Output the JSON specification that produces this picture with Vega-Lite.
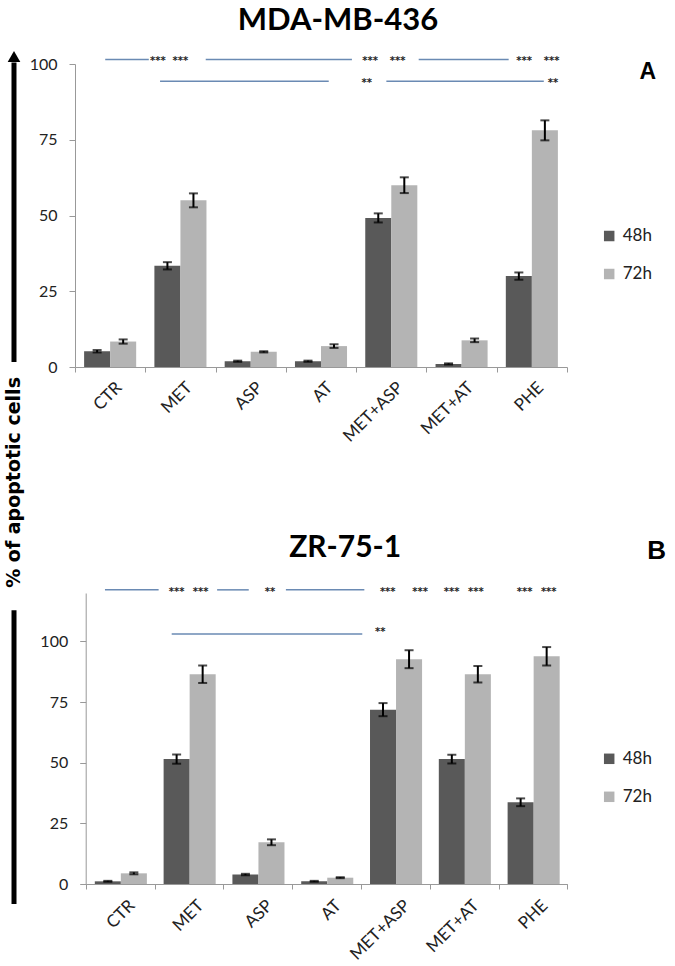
{
  "$schema": "https://vega.github.io/schema/vega-lite/v6.json",
  "background": "white",
  "padding": {"left": 4, "top": 4, "right": 2, "bottom": 2},
  "config": {"view": {"stroke": null}, "font": "Lato"},
  "datasets": {
    "mda": [
      {"treatment": "CTR", "time": "48h", "value": 5.2, "lo": 4.8, "hi": 5.6},
      {"treatment": "CTR", "time": "72h", "value": 8.4, "lo": 7.7, "hi": 9.1},
      {"treatment": "MET", "time": "48h", "value": 33.4, "lo": 32.2, "hi": 34.6},
      {"treatment": "MET", "time": "72h", "value": 55.0, "lo": 52.7, "hi": 57.3},
      {"treatment": "ASP", "time": "48h", "value": 1.9, "lo": 1.7, "hi": 2.1},
      {"treatment": "ASP", "time": "72h", "value": 5.0, "lo": 4.8, "hi": 5.2},
      {"treatment": "AT", "time": "48h", "value": 1.9, "lo": 1.7, "hi": 2.1},
      {"treatment": "AT", "time": "72h", "value": 6.9, "lo": 6.3, "hi": 7.5},
      {"treatment": "MET+ASP", "time": "48h", "value": 49.2, "lo": 47.7, "hi": 50.7},
      {"treatment": "MET+ASP", "time": "72h", "value": 60.0, "lo": 57.4, "hi": 62.6},
      {"treatment": "MET+AT", "time": "48h", "value": 1.0, "lo": 0.8, "hi": 1.2},
      {"treatment": "MET+AT", "time": "72h", "value": 8.8, "lo": 8.2, "hi": 9.4},
      {"treatment": "PHE", "time": "48h", "value": 30.0, "lo": 28.8, "hi": 31.2},
      {"treatment": "PHE", "time": "72h", "value": 78.1, "lo": 74.8, "hi": 81.4}
    ],
    "zr": [
      {"treatment": "CTR", "time": "48h", "value": 1.1, "lo": 0.9, "hi": 1.3},
      {"treatment": "CTR", "time": "72h", "value": 4.4, "lo": 4.0, "hi": 4.8},
      {"treatment": "MET", "time": "48h", "value": 51.5, "lo": 49.6, "hi": 53.4},
      {"treatment": "MET", "time": "72h", "value": 86.5, "lo": 82.9, "hi": 90.1},
      {"treatment": "ASP", "time": "48h", "value": 3.9, "lo": 3.6, "hi": 4.2},
      {"treatment": "ASP", "time": "72h", "value": 17.2, "lo": 16.0, "hi": 18.4},
      {"treatment": "AT", "time": "48h", "value": 1.1, "lo": 0.9, "hi": 1.3},
      {"treatment": "AT", "time": "72h", "value": 2.6, "lo": 2.4, "hi": 2.8},
      {"treatment": "MET+ASP", "time": "48h", "value": 71.9, "lo": 69.2, "hi": 74.6},
      {"treatment": "MET+ASP", "time": "72h", "value": 92.7, "lo": 89.0, "hi": 96.4},
      {"treatment": "MET+AT", "time": "48h", "value": 51.5, "lo": 49.7, "hi": 53.3},
      {"treatment": "MET+AT", "time": "72h", "value": 86.5, "lo": 83.1, "hi": 89.9},
      {"treatment": "PHE", "time": "48h", "value": 33.7, "lo": 32.1, "hi": 35.3},
      {"treatment": "PHE", "time": "72h", "value": 93.9, "lo": 90.1, "hi": 97.7}
    ],
    "mdaSeg": [
      {"x": 0.43, "x2": 1.05, "y": 101.5},
      {"x": 1.86, "x2": 3.94, "y": 101.5},
      {"x": 4.89, "x2": 6.17, "y": 101.5},
      {"x": 1.21, "x2": 3.61, "y": 94.3},
      {"x": 4.43, "x2": 6.67, "y": 94.3}
    ],
    "mdaStars": [
      {"x": 1.18, "y": 101.5, "label": "***"},
      {"x": 1.5, "y": 101.5, "label": "***"},
      {"x": 4.2, "y": 101.5, "label": "***"},
      {"x": 4.59, "y": 101.5, "label": "***"},
      {"x": 6.39, "y": 101.5, "label": "***"},
      {"x": 6.78, "y": 101.5, "label": "***"},
      {"x": 4.15, "y": 94.3, "label": "**"},
      {"x": 6.8, "y": 94.3, "label": "**"}
    ],
    "zrSeg": [
      {"x": 0.28, "x2": 1.06, "y": 121.3},
      {"x": 1.91, "x2": 2.37, "y": 121.3},
      {"x": 2.91, "x2": 4.05, "y": 121.3},
      {"x": 1.25, "x2": 4.02, "y": 103.1}
    ],
    "zrStars": [
      {"x": 1.32, "y": 121.3, "label": "***"},
      {"x": 1.67, "y": 121.3, "label": "***"},
      {"x": 2.68, "y": 121.3, "label": "**"},
      {"x": 4.39, "y": 121.3, "label": "***"},
      {"x": 4.86, "y": 121.3, "label": "***"},
      {"x": 5.32, "y": 121.3, "label": "***"},
      {"x": 5.67, "y": 121.3, "label": "***"},
      {"x": 6.38, "y": 121.3, "label": "***"},
      {"x": 6.73, "y": 121.3, "label": "***"},
      {"x": 4.28, "y": 104.9, "label": "**"}
    ]
  },
  "vconcat": [
    {
      "width": 492,
      "height": 303,
      "title": {"text": "MDA-MB-436", "fontSize": 31, "font": "Lato", "fontWeight": "bold", "anchor": "middle", "frame": "group", "offset": 14, "dx": 17, "color": "#000"},
      "layer": [
        {
          "data": {"name": "mda"},
          "encoding": {
            "x": {"field": "treatment", "type": "nominal", "sort": ["CTR", "MET", "ASP", "AT", "MET+ASP", "MET+AT", "PHE"],
              "scale": {"paddingInner": 0, "paddingOuter": 0},
              "axis": {"title": null, "labelAngle": -45, "labelFontSize": 17, "labelFont": "Lato", "labelColor": "#222", "tickBand": "extent", "domainColor": "#999", "tickColor": "#999", "tickSize": 5, "labelPadding": 7, "labelOffset": 3}},
            "xOffset": {"field": "time", "type": "nominal", "scale": {"paddingOuter": 0.35, "paddingInner": 0}}
          },
          "layer": [
            {
              "mark": {"type": "bar"},
              "encoding": {
                "y": {"field": "value", "type": "quantitative", "scale": {"domain": [0, 100], "nice": false},
                  "axis": {"title": null, "values": [0, 25, 50, 75, 100], "grid": false, "labelFontSize": 16, "labelFont": "Lato", "labelColor": "#222", "domainColor": "#999", "tickColor": "#999", "tickSize": 6, "labelPadding": 12}},
                "color": {"field": "time", "type": "nominal", "scale": {"domain": ["48h", "72h"], "range": ["#595959", "#b4b4b4"]},
                  "legend": {"title": null, "orient": "none", "legendX": 525.7, "legendY": 163.5, "symbolType": "square", "symbolSize": 110, "symbolStrokeWidth": 0, "labelFontSize": 17, "labelFont": "Lato", "labelColor": "#222", "rowPadding": 20, "padding": 0, "labelOffset": 5}}
              }
            },
            {
              "mark": {"type": "rule", "color": "black", "strokeWidth": 2},
              "encoding": {"y": {"field": "lo", "type": "quantitative", "scale": {"domain": [0, 100], "nice": false},
                  "axis": {"title": null, "values": [0, 25, 50, 75, 100], "grid": false, "labelFontSize": 16, "labelFont": "Lato", "labelColor": "#222", "domainColor": "#999", "tickColor": "#999", "tickSize": 6, "labelPadding": 12}}, "y2": {"field": "hi"}}
            },
            {
              "mark": {"type": "tick", "color": "black", "size": 9, "thickness": 2},
              "encoding": {"y": {"field": "lo", "type": "quantitative", "scale": {"domain": [0, 100], "nice": false},
                  "axis": {"title": null, "values": [0, 25, 50, 75, 100], "grid": false, "labelFontSize": 16, "labelFont": "Lato", "labelColor": "#222", "domainColor": "#999", "tickColor": "#999", "tickSize": 6, "labelPadding": 12}}}
            },
            {
              "mark": {"type": "tick", "color": "black", "size": 9, "thickness": 2},
              "encoding": {"y": {"field": "hi", "type": "quantitative", "scale": {"domain": [0, 100], "nice": false},
                  "axis": {"title": null, "values": [0, 25, 50, 75, 100], "grid": false, "labelFontSize": 16, "labelFont": "Lato", "labelColor": "#222", "domainColor": "#999", "tickColor": "#999", "tickSize": 6, "labelPadding": 12}}}
            }
          ]
        },
        {
          "layer": [
            {
              "data": {"name": "mdaSeg"},
              "mark": {"type": "rule", "color": "#6a8ab3", "strokeWidth": 1.5},
              "encoding": {
                "x": {"field": "x", "type": "quantitative", "scale": {"domain": [0, 7], "nice": false, "zero": false}, "axis": null},
                "x2": {"field": "x2"},
                "y": {"field": "y", "type": "quantitative", "scale": {"domain": [0, 100], "nice": false},
                  "axis": {"title": null, "values": [0, 25, 50, 75, 100], "grid": false, "labelFontSize": 16, "labelFont": "Lato", "labelColor": "#222", "domainColor": "#999", "tickColor": "#999", "tickSize": 6, "labelPadding": 12}}
              }
            },
            {
              "data": {"name": "mdaStars"},
              "mark": {"type": "text", "fontSize": 10, "font": "DejaVu Sans", "fontWeight": "bold", "dy": 2, "color": "#222"},
              "encoding": {
                "x": {"field": "x", "type": "quantitative", "scale": {"domain": [0, 7], "nice": false, "zero": false}, "axis": null},
                "y": {"field": "y", "type": "quantitative", "scale": {"domain": [0, 100], "nice": false},
                  "axis": {"title": null, "values": [0, 25, 50, 75, 100], "grid": false, "labelFontSize": 16, "labelFont": "Lato", "labelColor": "#222", "domainColor": "#999", "tickColor": "#999", "tickSize": 6, "labelPadding": 12}},
                "text": {"field": "label"}
              }
            },
            {
              "data": {"values": [{}]},
              "mark": {"type": "text", "fontSize": 23, "font": "Liberation Sans", "fontWeight": "bold", "color": "black"},
              "encoding": {
                "x": {"datum": 8.15, "type": "quantitative", "scale": {"domain": [0, 7], "nice": false, "zero": false}, "axis": null},
                "y": {"datum": 97.4, "type": "quantitative", "scale": {"domain": [0, 100], "nice": false},
                  "axis": {"title": null, "values": [0, 25, 50, 75, 100], "grid": false, "labelFontSize": 16, "labelFont": "Lato", "labelColor": "#222", "domainColor": "#999", "tickColor": "#999", "tickSize": 6, "labelPadding": 12}},
                "text": {"value": "A"}
              }
            },
            {
              "data": {"values": [{}]},
              "mark": {"type": "rule", "color": "black", "strokeWidth": 5},
              "encoding": {
                "x": {"datum": -0.868, "type": "quantitative", "scale": {"domain": [0, 7], "nice": false, "zero": false}, "axis": null},
                "y": {"datum": 1.65, "type": "quantitative", "scale": {"domain": [0, 100], "nice": false},
                  "axis": {"title": null, "values": [0, 25, 50, 75, 100], "grid": false, "labelFontSize": 16, "labelFont": "Lato", "labelColor": "#222", "domainColor": "#999", "tickColor": "#999", "tickSize": 6, "labelPadding": 12}},
                "y2": {"datum": 100.5}
              }
            },
            {
              "data": {"values": [{}]},
              "mark": {"type": "point", "shape": "triangle-up", "filled": true, "color": "black", "size": 160, "opacity": 1},
              "encoding": {
                "x": {"datum": -0.868, "type": "quantitative", "scale": {"domain": [0, 7], "nice": false, "zero": false}, "axis": null},
                "y": {"datum": 102.5, "type": "quantitative", "scale": {"domain": [0, 100], "nice": false},
                  "axis": {"title": null, "values": [0, 25, 50, 75, 100], "grid": false, "labelFontSize": 16, "labelFont": "Lato", "labelColor": "#222", "domainColor": "#999", "tickColor": "#999", "tickSize": 6, "labelPadding": 12}}
              }
            },
            {
              "data": {"values": [{}]},
              "mark": {"type": "text", "fontSize": 19, "font": "DejaVu Sans", "fontWeight": "bold", "angle": 270, "color": "black", "align": "center", "baseline": "middle"},
              "encoding": {
                "x": {"datum": -0.868, "type": "quantitative", "scale": {"domain": [0, 7], "nice": false, "zero": false}, "axis": null},
                "y": {"datum": -38.1, "type": "quantitative", "scale": {"domain": [0, 100], "nice": false},
                  "axis": {"title": null, "values": [0, 25, 50, 75, 100], "grid": false, "labelFontSize": 16, "labelFont": "Lato", "labelColor": "#222", "domainColor": "#999", "tickColor": "#999", "tickSize": 6, "labelPadding": 12}},
                "text": {"value": "% of apoptotic cells"}
              }
            }
          ]
        }
      ],
      "resolve": {"scale": {"x": "independent"}, "axis": {"x": "independent"}}
    },
    {
      "width": 492.3,
      "height": 291,
      "title": {"text": "ZR-75-1", "fontSize": 30, "font": "Lato", "fontWeight": "bold", "anchor": "middle", "frame": "group", "offset": -25, "dx": 24, "color": "#000"},
      "layer": [
        {
          "data": {"name": "zr"},
          "encoding": {
            "x": {"field": "treatment", "type": "nominal", "sort": ["CTR", "MET", "ASP", "AT", "MET+ASP", "MET+AT", "PHE"],
              "scale": {"paddingInner": 0, "paddingOuter": 0, "range": [10.7, 492.3]},
              "axis": {"title": null, "labelAngle": -45, "labelFontSize": 17, "labelFont": "Lato", "labelColor": "#222", "tickBand": "extent", "domainColor": "#999", "tickColor": "#999", "tickSize": 5, "labelPadding": 8, "labelOffset": 6}},
            "xOffset": {"field": "time", "type": "nominal", "scale": {"paddingOuter": 0.36, "paddingInner": 0}}
          },
          "layer": [
            {
              "mark": {"type": "bar"},
              "encoding": {
                "y": {"field": "value", "type": "quantitative", "scale": {"domain": [0, 120], "nice": false},
                  "axis": {"title": null, "values": [0, 25, 50, 75, 100], "grid": false, "labelFontSize": 16, "labelFont": "Lato", "labelColor": "#222", "domainColor": "#999", "tickColor": "#999", "tickSize": 6, "labelPadding": 12, "offset": -10.7}},
                "color": {"field": "time", "type": "nominal", "scale": {"domain": ["48h", "72h"], "range": ["#595959", "#b4b4b4"]},
                  "legend": {"title": null, "orient": "none", "legendX": 525.7, "legendY": 157.3, "symbolType": "square", "symbolSize": 110, "symbolStrokeWidth": 0, "labelFontSize": 17, "labelFont": "Lato", "labelColor": "#222", "rowPadding": 20, "padding": 0, "labelOffset": 5}}
              }
            },
            {
              "mark": {"type": "rule", "color": "black", "strokeWidth": 2},
              "encoding": {"y": {"field": "lo", "type": "quantitative", "scale": {"domain": [0, 120], "nice": false},
                  "axis": {"title": null, "values": [0, 25, 50, 75, 100], "grid": false, "labelFontSize": 16, "labelFont": "Lato", "labelColor": "#222", "domainColor": "#999", "tickColor": "#999", "tickSize": 6, "labelPadding": 12, "offset": -10.7}}, "y2": {"field": "hi"}}
            },
            {
              "mark": {"type": "tick", "color": "black", "size": 9, "thickness": 2},
              "encoding": {"y": {"field": "lo", "type": "quantitative", "scale": {"domain": [0, 120], "nice": false},
                  "axis": {"title": null, "values": [0, 25, 50, 75, 100], "grid": false, "labelFontSize": 16, "labelFont": "Lato", "labelColor": "#222", "domainColor": "#999", "tickColor": "#999", "tickSize": 6, "labelPadding": 12, "offset": -10.7}}}
            },
            {
              "mark": {"type": "tick", "color": "black", "size": 9, "thickness": 2},
              "encoding": {"y": {"field": "hi", "type": "quantitative", "scale": {"domain": [0, 120], "nice": false},
                  "axis": {"title": null, "values": [0, 25, 50, 75, 100], "grid": false, "labelFontSize": 16, "labelFont": "Lato", "labelColor": "#222", "domainColor": "#999", "tickColor": "#999", "tickSize": 6, "labelPadding": 12, "offset": -10.7}}}
            }
          ]
        },
        {
          "layer": [
            {
              "data": {"name": "zrSeg"},
              "mark": {"type": "rule", "color": "#6a8ab3", "strokeWidth": 1.5},
              "encoding": {
                "x": {"field": "x", "type": "quantitative", "scale": {"domain": [0, 7], "nice": false, "zero": false, "range": [10.7, 492.3]}, "axis": null},
                "x2": {"field": "x2"},
                "y": {"field": "y", "type": "quantitative", "scale": {"domain": [0, 120], "nice": false},
                  "axis": {"title": null, "values": [0, 25, 50, 75, 100], "grid": false, "labelFontSize": 16, "labelFont": "Lato", "labelColor": "#222", "domainColor": "#999", "tickColor": "#999", "tickSize": 6, "labelPadding": 12, "offset": -10.7}}
              }
            },
            {
              "data": {"name": "zrStars"},
              "mark": {"type": "text", "fontSize": 10, "font": "DejaVu Sans", "fontWeight": "bold", "dy": 2, "color": "#222"},
              "encoding": {
                "x": {"field": "x", "type": "quantitative", "scale": {"domain": [0, 7], "nice": false, "zero": false, "range": [10.7, 492.3]}, "axis": null},
                "y": {"field": "y", "type": "quantitative", "scale": {"domain": [0, 120], "nice": false},
                  "axis": {"title": null, "values": [0, 25, 50, 75, 100], "grid": false, "labelFontSize": 16, "labelFont": "Lato", "labelColor": "#222", "domainColor": "#999", "tickColor": "#999", "tickSize": 6, "labelPadding": 12, "offset": -10.7}},
                "text": {"field": "label"}
              }
            },
            {
              "data": {"values": [{}]},
              "mark": {"type": "text", "fontSize": 26, "font": "Liberation Sans", "fontWeight": "bold", "color": "black"},
              "encoding": {
                "x": {"datum": 8.3, "type": "quantitative", "scale": {"domain": [0, 7], "nice": false, "zero": false, "range": [10.7, 492.3]}, "axis": null},
                "y": {"datum": 137.2, "type": "quantitative", "scale": {"domain": [0, 120], "nice": false},
                  "axis": {"title": null, "values": [0, 25, 50, 75, 100], "grid": false, "labelFontSize": 16, "labelFont": "Lato", "labelColor": "#222", "domainColor": "#999", "tickColor": "#999", "tickSize": 6, "labelPadding": 12, "offset": -10.7}},
                "text": {"value": "B"}
              }
            },
            {
              "data": {"values": [{}]},
              "mark": {"type": "rule", "color": "black", "strokeWidth": 5},
              "encoding": {
                "x": {"datum": -1.042, "type": "quantitative", "scale": {"domain": [0, 7], "nice": false, "zero": false, "range": [10.7, 492.3]}, "axis": null},
                "y": {"datum": -8.25, "type": "quantitative", "scale": {"domain": [0, 120], "nice": false},
                  "axis": {"title": null, "values": [0, 25, 50, 75, 100], "grid": false, "labelFontSize": 16, "labelFont": "Lato", "labelColor": "#222", "domainColor": "#999", "tickColor": "#999", "tickSize": 6, "labelPadding": 12, "offset": -10.7}},
                "y2": {"datum": 112.9}
              }
            }
          ]
        }
      ],
      "resolve": {"scale": {"x": "independent"}, "axis": {"x": "independent"}}
    }
  ],
  "spacing": 226,
  "bounds": "flush",
  "resolve": {"scale": {"color": "independent"}, "legend": {"color": "independent"}}
}
